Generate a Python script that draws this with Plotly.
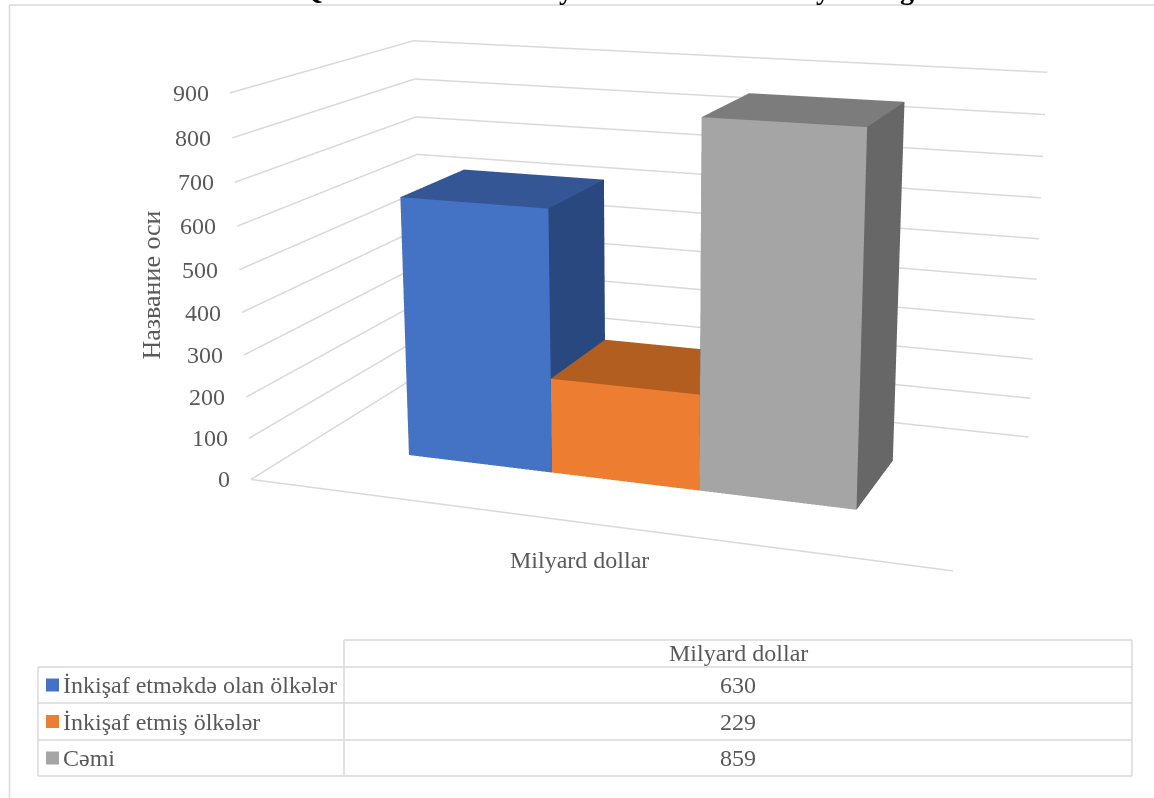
import plotly.graph_objects as go

# ---- data ----
categories = ["İnkişaf etməkdə olan ölkələr", "İnkişaf etmiş ölkələr", "Cəmi"]
values = [630, 229, 859]
z_ticks = [0, 100, 200, 300, 400, 500, 600, 700, 800, 900]
axis_title = "Название оси"
series_label = "Milyard dollar"
title_letters = ["Q", "y", "y", "g"]  # only these glyph feet are visible at the clipped top edge
colors_front = ["#4472C4", "#ED7D31", "#A5A5A5"]
colors_top = ["#355695", "#B25E20", "#7C7C7C"]
colors_side = ["#2A4880", "#A0551C", "#676767"]

# ---- 3D view: Plotly's lens is fixed, so the scene is larger than the window and offset ----
PW, PH = 1154, 798
SW, SH = 1307, 1700
LEFT, TOP = 0, -531
bar_edges = [0.1632, 0.3885, 0.6093, 0.8332]
bar_depth = [0.3047, 0.6876]

def X(px):
    return (px - LEFT) / SW

def Y(py):
    return 1 - (py - TOP) / SH

TXT = "#595959"
LINE = "#D9D9D9"
FONT = "Liberation Serif"
SIZE = 24

fig = go.Figure()

# gridlines on left and back wall, plus the front floor edge
for t in z_ticks:
    fig.add_trace(go.Scatter3d(x=[0, 0, 1], y=[0, 1, 1], z=[t, t, t], mode="lines",
                               line=dict(color=LINE, width=3), hoverinfo="skip"))
fig.add_trace(go.Scatter3d(x=[0, 1], y=[0, 0], z=[0, 0], mode="lines",
                           line=dict(color=LINE, width=3), hoverinfo="skip"))

# bars
for i, v in enumerate(values):
    x0, x1 = bar_edges[i], bar_edges[i + 1]
    y0, y1 = bar_depth
    xs = [x0, x1, x1, x0, x0, x1, x1, x0]
    ys = [y0, y0, y1, y1, y0, y0, y1, y1]
    zs = [0, 0, 0, 0, v, v, v, v]
    tri = [(0, 1, 5, colors_front[i]), (0, 5, 4, colors_front[i]),
           (4, 5, 6, colors_top[i]), (4, 6, 7, colors_top[i]),
           (1, 2, 6, colors_side[i]), (1, 6, 5, colors_side[i]),
           (0, 3, 7, colors_side[i]), (0, 7, 4, colors_side[i])]
    fig.add_trace(go.Mesh3d(x=xs, y=ys, z=zs,
                            i=[t[0] for t in tri], j=[t[1] for t in tri], k=[t[2] for t in tri],
                            facecolor=[t[3] for t in tri], flatshading=True, hoverinfo="skip",
                            name=categories[i],
                            lighting=dict(ambient=1, diffuse=0, specular=0, roughness=1, fresnel=0)))

hidden = dict(showgrid=False, zeroline=False, showline=False, showticklabels=False,
              showbackground=False, title="", showspikes=False, ticks="")
fig.update_layout(
    width=SW, height=SH, margin=dict(l=0, r=0, t=0, b=0), paper_bgcolor="white", showlegend=False,
    font=dict(family=FONT, color=TXT, size=SIZE),
    scene=dict(domain=dict(x=[0, 1], y=[0, 1]), aspectmode="manual",
               aspectratio=dict(x=1.8247, y=1.0141, z=1),
               camera=dict(eye=dict(x=1.7382, y=-4.8469, z=1.2915),
                           center=dict(x=0.0362, y=-0.0861, z=-0.0935),
                           up=dict(x=0, y=0, z=1)),
               xaxis=dict(hidden, range=[0, 1]), yaxis=dict(hidden, range=[0, 1]),
               zaxis=dict(hidden, range=[0, 900]),
               annotations=[dict(x=0, y=0, z=t, text=str(t), showarrow=False, xanchor="right", xshift=-19,
                                 font=dict(size=SIZE, color=TXT, family=FONT))
                            for t in z_ticks]),
)

# ---- chart frame and data table ----
def line(x0, y0, x1, y1, w=1.5):
    return dict(type="line", xref="paper", yref="paper", x0=X(x0), y0=Y(y0), x1=X(x1), y1=Y(y1),
                line=dict(color=LINE, width=w))

def note(px, py, text, xanchor="center", yanchor="middle", **kw):
    fig.add_annotation(x=X(px), y=Y(py), xref="paper", yref="paper", text=text, showarrow=False,
                       xanchor=xanchor, yanchor=yanchor, **kw)

row_y = [667, 703, 740, 776]
shapes = [line(9.5, 5, 9.5, PH), line(9.5, 5, PW, 5), line(344, 640, 1132, 640), line(1132, 640, 1132, 776),
          line(344, 640, 344, 776), line(38, 667, 38, 776)]
shapes += [line(38, y, 1132, y) for y in row_y]
for i, cat in enumerate(categories):
    yc = (row_y[i] + row_y[i + 1]) / 2
    shapes.append(dict(type="rect", xref="paper", yref="paper", x0=X(46), x1=X(59), y0=Y(yc + 6.5), y1=Y(yc - 6.5),
                       fillcolor=colors_front[i], line=dict(width=0)))
    note(61, yc, cat, xanchor="left")
    note(738, yc, str(values[i]))
note(738, 653, series_label)
note(579, 560, series_label)
note(151, 285.5, axis_title, textangle=-90, font=dict(size=26, color=TXT, family=FONT))
for px, letter in zip([312, 566, 823, 907], title_letters):
    note(px, 6, "<b>%s</b>" % letter, yanchor="bottom", borderpad=0, font=dict(size=28, color="black", family=FONT))
fig.update_layout(shapes=shapes)

js = ("var d=document.querySelector('.plotly-graph-div');d.style.position='absolute';"
      "d.style.left='%dpx';d.style.top='%dpx';"
      "document.documentElement.style.overflow='hidden';document.body.style.overflow='hidden';"
      "document.body.style.margin='0';" % (LEFT, TOP))
fig.write_html("out.html", post_script=js)
